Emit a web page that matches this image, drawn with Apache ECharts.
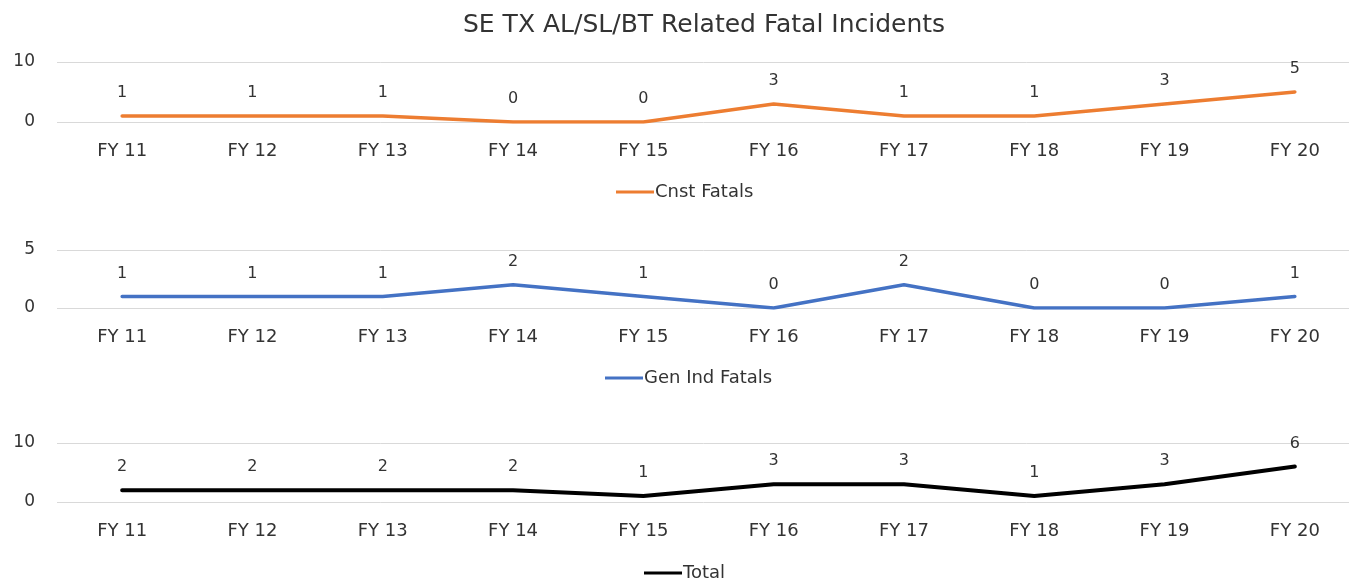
<!DOCTYPE html>
<html>
<head>
<meta charset="utf-8">
<script src="https://cdn.jsdelivr.net/npm/echarts@6/dist/echarts.min.js"></script>
<style>
html,body{margin:0;padding:0;background:#fff;}
#chart{width:1349px;height:581px;}
</style>
</head>
<body>
<div id="chart"></div>
<script>
// Fiscal years on the shared category axis
const years = ['FY 11','FY 12','FY 13','FY 14','FY 15','FY 16','FY 17','FY 18','FY 19','FY 20'];

// Fatal incidents per year
const cnstFatals = [1,1,1,0,0,3,1,1,3,5];
const genIndFatals = [1,1,1,2,1,0,2,0,0,1];
const totalFatals = [2,2,2,2,1,3,3,1,3,6];

// Value-axis ranges for each panel
const cnstAxis = {min:0, max:10, interval:10};
const genAxis = {min:0, max:5, interval:5};
const totalAxis = {min:0, max:10, interval:10};

const font = "'DejaVu Sans', 'Liberation Sans', sans-serif";
const textColor = '#333333';

const panels = [
  {name:'Cnst Fatals', data:cnstFatals, axis:cnstAxis, color:'#ED7D31', lineWidth:3.5, top:62, height:60, legendTop:178, legendLeft:611},
  {name:'Gen Ind Fatals', data:genIndFatals, axis:genAxis, color:'#4472C4', lineWidth:3.5, top:250, height:58, legendTop:364, legendLeft:600},
  {name:'Total', data:totalFatals, axis:totalAxis, color:'#000000', lineWidth:4, top:443, height:59, legendTop:559, legendLeft:639}
];

const option = {
  animation:false,
  backgroundColor:'#fff',
  title:{
    text:'SE TX AL/SL/BT Related Fatal Incidents',
    left:458, top:8,
    textStyle:{fontFamily:font, fontSize:25, fontWeight:'normal', color:textColor}
  },
  legend: panels.map(p => ({
    data:[{name:p.name, icon:'rect'}],
    top:p.legendTop,
    left:p.legendLeft,
    itemWidth:38,
    itemHeight:3,
    itemGap:0,
    textStyle:{fontFamily:font, fontSize:18, color:textColor, padding:[0,0,0,-4]},
    selectedMode:false
  })),
  grid: panels.map(p => ({left:57, width:1303, top:p.top, height:p.height, outerBoundsMode:'none', containLabel:false})),
  xAxis: panels.map((p,i) => ({
    type:'category', gridIndex:i, data:years, boundaryGap:true,
    axisLine:{show:false}, axisTick:{show:false},
    axisLabel:{fontFamily:font, fontSize:18, color:textColor, margin:20, interval:0}
  })),
  yAxis: panels.map((p,i) => ({
    type:'value', gridIndex:i, min:p.axis.min, max:p.axis.max, interval:p.axis.interval,
    axisLine:{show:false}, axisTick:{show:false},
    splitLine:{lineStyle:{color:'#d9d9d9', width:1}},
    axisLabel:{fontFamily:font, fontSize:17, color:textColor, margin:22}
  })),
  series: panels.map((p,i) => ({
    name:p.name, type:'line', xAxisIndex:i, yAxisIndex:i, data:p.data,
    symbol:'circle', symbolSize:0, showSymbol:true,
    lineStyle:{color:p.color, width:p.lineWidth, cap:'round', join:'round'},
    itemStyle:{color:p.color},
    label:{show:true, position:'top', distance:15, fontFamily:font, fontSize:16, color:textColor}
  }))
};

const chart = echarts.init(document.getElementById('chart'), null, {renderer:'canvas'});
chart.setOption(option);
</script>
</body>
</html>
